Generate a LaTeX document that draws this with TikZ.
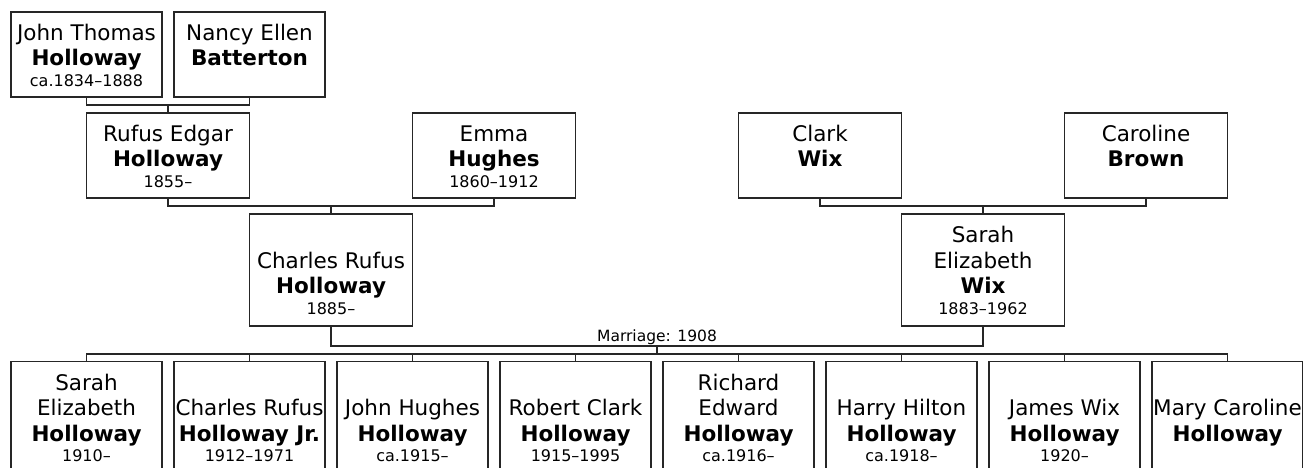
\documentclass[tikz,border=0pt]{standalone}
\usepackage{fontspec}
\setmainfont{DejaVu Sans}

\newcommand\namefont{\fontsize{21.5}{25.5}\selectfont}
\newcommand\datefont{\fontsize{16}{20.5}\selectfont}
\newcommand\topstrut{\rule{0pt}{24pt}}
\newcommand\botstrut{\rule[-6.75pt]{0pt}{6.75pt}}
% three slots: given names, surname, dates
\newcommand\pthree[3]{\topstrut#1\\\textbf{#2}\\[-5pt]{\datefont#3}\botstrut}
% four slots: two lines of given names, surname, dates
\newcommand\pfour[4]{\topstrut#1\\#2\\\textbf{#3}\\[-5pt]{\datefont#4}\botstrut}

\tikzset{
  person/.style={draw=black!85,line width=1.5pt,inner sep=0pt,outer sep=0pt,
    align=center,font=\namefont,minimum width=151pt,minimum height=85pt},
  parent/.style={person,minimum width=163pt},
  tall/.style={minimum height=112pt},
  link/.style={draw=black!85,line width=1.3pt}
}

\begin{document}
\begin{tikzpicture}[x=1pt,y=-1pt]
  \clip (0,0) rectangle (1303,468);
  % grandparents
  \node[person] (jthomas) at (86.5,54.5) {\pthree{John Thomas}{Holloway}{ca.1834–1888}};
  \node[person] (nancy) at (249.5,54.5) {\pthree{Nancy Ellen}{Batterton}{}};
  % parents of the couple
  \node[parent] (rufus) at (168,155.5) {\pthree{Rufus Edgar}{Holloway}{1855–}};
  \node[parent] (emma) at (494,155.5) {\pthree{Emma}{Hughes}{1860–1912}};
  \node[parent] (clark) at (820,155.5) {\pthree{Clark}{Wix}{}};
  \node[parent] (caroline) at (1146,155.5) {\pthree{Caroline}{Brown}{}};
  % the couple
  \node[parent,tall] (charles) at (331,270) {\pfour{}{Charles Rufus}{Holloway}{1885–}};
  \node[parent,tall] (sarahwix) at (983,270) {\pfour{Sarah}{Elizabeth}{Wix}{1883–1962}};
  % children
  \node[person,tall] (kid1) at (86.5,417.5) {\pfour{Sarah}{Elizabeth}{Holloway}{1910–}};
  \node[person,tall] (kid2) at (249.5,417.5) {\pfour{}{Charles Rufus}{Holloway Jr.}{1912–1971}};
  \node[person,tall] (kid3) at (412.5,417.5) {\pfour{}{John Hughes}{Holloway}{ca.1915–}};
  \node[person,tall] (kid4) at (575.5,417.5) {\pfour{}{Robert Clark}{Holloway}{1915–1995}};
  \node[person,tall] (kid5) at (738.5,417.5) {\pfour{Richard}{Edward}{Holloway}{ca.1916–}};
  \node[person,tall] (kid6) at (901.5,417.5) {\pfour{}{Harry Hilton}{Holloway}{ca.1918–}};
  \node[person,tall] (kid7) at (1064.5,417.5) {\pfour{}{James Wix}{Holloway}{1920–}};
  \node[person,tall] (kid8) at (1227.5,417.5) {\pfour{}{Mary Caroline}{Holloway}{}};

  % family links
  \draw[link] (jthomas.south) -- ++(0,8) -| (nancy.south);
  \draw[link] (rufus.north) -- ++(0,-8);
  \draw[link] (rufus.south) -- ++(0,8) -| (emma.south);
  \draw[link] (charles.north) -- ++(0,-8);
  \draw[link] (clark.south) -- ++(0,8) -| (caroline.south);
  \draw[link] (sarahwix.north) -- ++(0,-8);

  % marriage and children
  \draw[link] (charles.south) -- ++(0,20) -| (sarahwix.south);
  \node[font=\fontsize{15.5}{18}\selectfont,anchor=base] (wedding) at (657,341.5) {Marriage: 1908};
  \coordinate (wed) at (657,346);
  \draw[link] (wed) -- ++(0,8);
  \draw[link] (kid1.north) -- ++(0,-7.5) -| (kid8.north);
  \foreach \k in {2,...,7}
    \draw[link] (kid\k.north) -- ++(0,-7.5);
\end{tikzpicture}
\end{document}
